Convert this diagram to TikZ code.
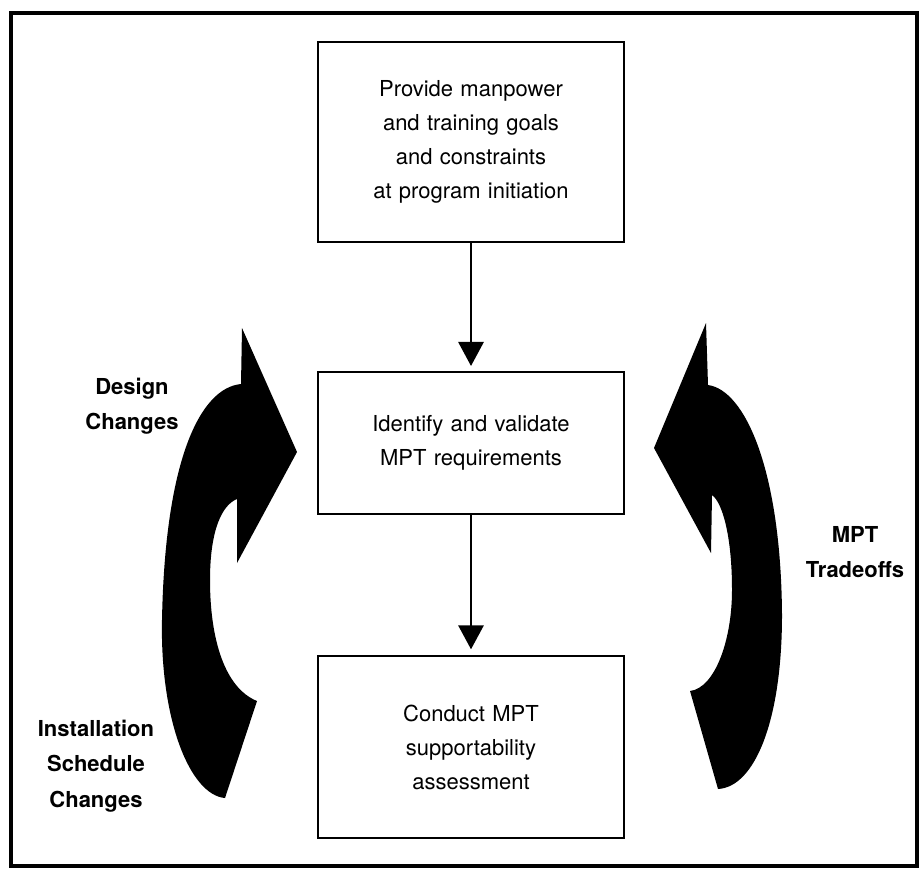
\documentclass[tikz,border=0pt]{standalone}
\usepackage{fontspec}
\setmainfont{TeX Gyre Heros}
\usetikzlibrary{arrows.meta}

\begin{document}
\begin{tikzpicture}
[x=0.75pt, y=-0.75pt,
font=\fontsize{16.5}{25.5}\selectfont,
block/.style ={rectangle, draw, line width=1.5pt,
text width=229pt, align=center, inner sep=0pt},
sidetext/.style ={font=\fontsize{16.5}{26.5}\selectfont\bfseries,
align=center},
line/.style ={draw, line width=1.5pt,
-{Triangle[width=19pt,length=18pt]}, shorten >=4pt},
frame/.style ={draw, line width=2.5pt},
bigarrow/.style ={fill=black}]
\useasboundingbox (0,0) rectangle (923,869);
\path [frame] (11,13) rectangle (917,866);
\matrix (flow) [anchor=north, inner sep=0pt, row sep=96pt] at (471,41)
{
% row 1 the goals
\node [block, minimum height=150pt] (goals) {Provide manpower\\ and training goals\\ and constraints\\ at program initiation}; \\
% row 2 the requirements
\node [block, minimum height=106pt] (reqs) {Identify and validate\\ MPT requirements}; \\[9pt]
% row 3 the assessment
\node [block, minimum height=137pt] (assess) {Conduct MPT\\ supportability\\ assessment}; \\
};
\begin{scope}[every path/.style=line]
\path (goals) -- (reqs);
\path (reqs) -- (assess);
\end{scope}
% the two big turning arrows
\path [bigarrow] (225,798) -- (257,701)
.. controls (225,688) and (210,640) .. (210,580)
.. controls (210,530) and (222,505) .. (237,499)
-- (237,563) -- (297,452) -- (242,328) -- (241,384)
.. controls (200,388) and (165,460) .. (162,620)
.. controls (160,720) and (190,795) .. (225,798) -- cycle;
\path [bigarrow] (718,789) -- (690,691)
.. controls (715,688) and (732,640) .. (732,590)
.. controls (732,535) and (722,502) .. (712,495)
-- (711,553) -- (654,448) -- (706,323) -- (708,385)
.. controls (745,390) and (781,470) .. (782,615)
.. controls (782,720) and (755,787) .. (718,789) -- cycle;
\node [sidetext] (design) at (132,406) {Design \\ Changes};
\node [sidetext] (install) at (96,766) {Installation \\ Schedule \\ Changes};
\node [sidetext] (tradeoffs) at (855,552) {MPT \\ Tradeoffs};
\end{tikzpicture}
\end{document}
